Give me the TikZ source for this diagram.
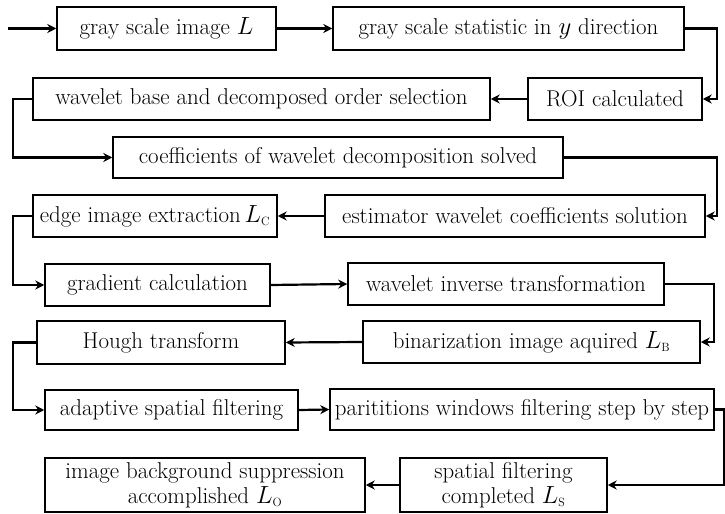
\documentclass[tikz,border=0pt]{standalone}
\usetikzlibrary{arrows.meta}
\begin{document}
\begin{tikzpicture}[x=1bp,y=-1bp,
  box/.style={draw,line width=1.5bp,inner sep=0pt,align=center,font=\fontsize{23}{25}\selectfont},
  conn/.style={line width=2.2bp,line join=miter,-{Stealth[length=9bp,width=9bp]}}]
\useasboundingbox (0,0) rectangle (725,514);
\node[box,minimum width=219bp,minimum height=43bp] (n1) at (166.5,28.5) {gray scale image $L$};
\node[box,minimum width=351bp,minimum height=43bp] (n2) at (508.5,28.5) {gray scale statistic in $y$ direction};
\node[box,minimum width=174bp,minimum height=42bp] (n3) at (615,99) {ROI calculated};
\node[box,minimum width=457bp,minimum height=42bp] (n4) at (261.5,99) {wavelet base and decomposed order selection};
\node[box,minimum width=450bp,minimum height=41bp] (n5) at (338,157.5) {coefficients of wavelet decomposition solved};
\node[box,minimum width=380bp,minimum height=42bp] (n6) at (515,216) {estimator wavelet coefficients solution};
\node[box,minimum width=244bp,minimum height=42bp] (n7) at (155,216) {edge image extraction\,$L_{\scriptscriptstyle\mathrm{C}}$};
\node[box,minimum width=225bp,minimum height=42bp] (n8) at (157.5,285) {gradient calculation};
\node[box,minimum width=316bp,minimum height=42bp] (n9) at (506,284) {wavelet inverse transformation};
\node[box,minimum width=337bp,minimum height=42bp] (n10) at (531.5,342) {binarization image aquired $L_{\scriptscriptstyle\mathrm{B}}$};
\node[box,minimum width=248bp,minimum height=43bp] (n11) at (161,342.5) {Hough transform};
\node[box,minimum width=253bp,minimum height=40bp] (n12) at (171.5,410) {adaptive spatial filtering};
\node[box,minimum width=384bp,minimum height=41bp] (n13) at (522,409.5) {parititions windows filtering step by step};
\node[box,minimum width=207bp,minimum height=54bp] (n14) at (503.5,485) {spatial filtering\\completed $L_{\scriptscriptstyle\mathrm{S}}$};
\node[box,minimum width=320bp,minimum height=54bp] (n15) at (205,485) {image background suppression\\accomplished $L_{\scriptscriptstyle\mathrm{O}}$};
\coordinate (start) at (8,28.5);
\draw[conn] (start) -- (n1.west);
\draw[conn] (n1.east) -- (n2.west);
\draw[conn] (n2.east) -- ++(32,0) |- (n3.east);
\draw[conn] (n3.west) -- (n4.east);
\draw[conn] (n4.west) -- ++(-19,0) |- (n5.west);
\draw[conn] (n5.east) -- ++(153,0) |- (n6.east);
\draw[conn] (n6.west) -- (n7.east);
\draw[conn] (n7.west) -- ++(-19,0) |- (n8.west);
\draw[conn] (n8.east) -- (n9.west);
\draw[conn] (n9.east) -- ++(49,0) |- (n10.east);
\draw[conn] (n10.west) -- (n11.east);
\draw[conn] (n11.west) -- ++(-23,0) |- (n12.west);
\draw[conn] (n12.east) -- (n13.west);
\draw[conn] (n13.east) -- ++(9,0) |- (n14.east);
\draw[conn] (n14.west) -- (n15.east);
\end{tikzpicture}
\end{document}
